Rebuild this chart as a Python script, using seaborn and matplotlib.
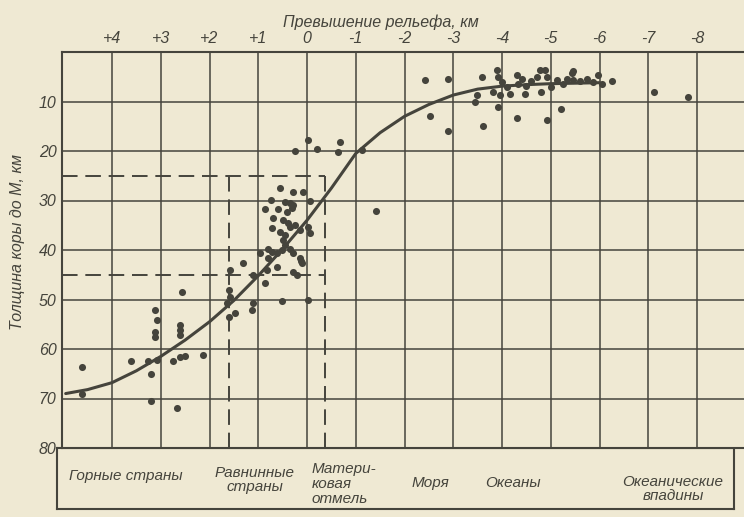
import numpy as np
import pandas as pd
import matplotlib
matplotlib.use("Agg")
import matplotlib.pyplot as plt
import seaborn as sns

# relief elevation (km, + above sea level) and crust thickness to Moho (km)
elev_km = [4.62, 4.62, 3.60, 3.26, 3.08, 3.19, 3.19, 2.67, 3.12, 3.08, 3.12, 3.12,
           2.60, 2.60, 2.60, 2.74, 2.60, 2.50, 2.14, 2.57,
           1.59, 1.58, 1.65, 1.48, 1.61, 1.58, 1.31, 1.10, 1.10, 1.13,
           0.86, 0.52, -0.03, 0.96, 0.83, 0.62, 0.28, 0.21, 0.11, 0.79,
           0.80, 0.72, 0.62, 0.52, 0.35, 0.28, 0.14, 0.12, 0.49, 0.45,
           0.72, 0.55, 0.45, 0.14, -0.03, -0.06, 0.35, 0.69, 0.49, 0.38, 0.25,
           0.86, 0.59, 0.42, 0.30, 0.35, 0.74, 0.45, 0.28, -0.06, 0.55, 0.28, 0.09,
           0.25, -0.03, -0.20, -0.68, -0.64, -1.12, -1.42,
           -2.42, -2.90, -3.58, -3.89, -3.92, -3.82, -3.96, -3.48, -3.45, -3.92,
           -4.16, -4.30, -4.33, -4.47, -4.50, -4.71, -4.78, -4.81, -4.92, -5.12, -5.25, -5.22,
           -2.52, -2.90, -3.62, -4.30, -4.92, -4.00, -4.10, -4.60, -5.00, -4.40,
           -5.46, -5.33, -5.46, -5.75, -5.87, -5.97, -6.05, -6.25, -5.60, -4.89, -5.44,
           -7.11, -7.82]
depth_km = [63.6, 69.0, 62.4, 62.4, 62.2, 65.0, 70.6, 72.0, 52.1, 54.1, 56.5, 57.5,
            55.2, 56.2, 57.2, 62.4, 61.7, 61.5, 61.2, 48.5,
            48.1, 49.4, 50.8, 52.8, 53.5, 44.0, 42.7, 45.0, 50.8, 52.1,
            46.7, 50.4, 50.1, 40.7, 44.0, 43.4, 44.4, 45.0, 42.7, 41.7,
            39.7, 40.4, 40.7, 40.0, 39.7, 40.7, 41.7, 42.2, 38.0, 39.0,
            35.6, 36.3, 37.0, 36.0, 35.3, 36.6, 35.3, 33.6, 34.0, 34.5, 35.0,
            31.8, 31.8, 32.4, 31.6, 30.5, 29.9, 30.3, 30.9, 30.2, 27.5, 28.2, 28.2,
            19.9, 17.8, 19.5, 18.1, 20.3, 19.8, 32.1,
            5.6, 5.5, 5.0, 3.7, 5.0, 8.0, 8.7, 8.7, 10.0, 11.1,
            8.4, 4.7, 6.4, 8.4, 6.8, 5.0, 3.6, 8.0, 5.0, 5.6, 6.4, 11.5,
            12.9, 16.0, 15.0, 13.3, 13.7, 6.0, 7.0, 5.8, 7.0, 5.5,
            3.9, 5.4, 5.6, 5.5, 6.0, 4.7, 6.4, 5.9, 5.8, 3.6, 4.2,
            8.0, 9.0]

# hand-drawn mean curve
curve_elev = [4.95, 4.5, 4.0, 3.5, 3.0, 2.5, 2.0, 1.5, 1.0, 0.5, 0.0, -0.5,
              -1.0, -1.5, -2.0, -2.5, -3.0, -3.5, -4.0, -4.5, -5.0, -5.5, -6.0]
curve_depth = [69.0, 68.2, 66.8, 64.4, 61.5, 58.2, 54.5, 50.2, 45.2, 39.8, 34.0, 27.5,
               20.5, 16.3, 13.0, 10.6, 8.7, 7.5, 6.9, 6.6, 6.4, 6.3, 6.2]

top_ticks = [4, 3, 2, 1, 0, -1, -2, -3, -4, -5, -6, -7, -8]
top_labels = ['+4', '+3', '+2', '+1', '0', '-1', '-2', '-3', '-4', '-5', '-6', '-7', '-8']
depth_ticks = [10, 20, 30, 40, 50, 60, 70, 80]

# dashed box: plains thickness band
box_depth = [25, 45]
box_elev = [1.6, -0.37]

region_names = ['Горные страны', 'Равнинные\nстраны', 'Матери-\nковая\nотмель',
                'Моря', 'Океаны', 'Океанические\nвпадины']
region_px = [126, 255, 312, 430, 513, 673]
region_py = [476, 480, 484, 483, 483, 489]

bg = '#efe9d3'
ink = '#45443c'

sns.set_style("white")
plt.rcParams['font.family'] = ['Liberation Sans', 'DejaVu Sans']

fig = plt.figure(figsize=(7.44, 5.17), dpi=100)
fig.patch.set_facecolor(bg)
W, H = 744, 517

# label strip below the grid
ax2 = fig.add_axes([57 / W, 1 - 509 / H, (734 - 57) / W, (509 - 448) / H])
ax2.set_facecolor(bg)
ax2.set_xticks([])
ax2.set_yticks([])
for s in ax2.spines.values():
    s.set_color(ink)
    s.set_linewidth(1.5)

ax = fig.add_axes([62 / W, 1 - 448 / H, (744 - 62) / W, (448 - 52) / H])
ax.set_facecolor(bg)

df = pd.DataFrame({'elev': elev_km, 'depth': depth_km})
curve = pd.DataFrame({'elev': curve_elev, 'depth': curve_depth})

sns.lineplot(data=curve, x='elev', y='depth', color=ink, lw=2.2, sort=False, ax=ax, zorder=4)
sns.scatterplot(data=df, x='elev', y='depth', color=ink, s=26, linewidth=0, ax=ax, zorder=5)

ax.set_xlim((307 - 62) / 48.75, (307 - 744) / 48.75)
ax.set_ylim(80, 0)

# dashed box
left_e = ax.get_xlim()[0]
ls = dict(color=ink, lw=1.4, ls=(0, (8, 4)), zorder=3)
ax.plot([left_e, box_elev[1]], [box_depth[0], box_depth[0]], **ls)
ax.plot([left_e, box_elev[1]], [box_depth[1], box_depth[1]], **ls)
ax.plot([box_elev[0], box_elev[0]], [box_depth[0], 80], **ls)
ax.plot([box_elev[1], box_elev[1]], [box_depth[0], 80], **ls)

ax.xaxis.tick_top()
ax.set_xticks(top_ticks)
ax.set_xticklabels(top_labels, fontsize=11.5, fontstyle='italic', color=ink)
ax.set_yticks(depth_ticks)
ax.set_yticklabels([str(t) for t in depth_ticks], fontsize=11.5, fontstyle='italic', color=ink)
ax.tick_params(axis='both', length=0, pad=4)
ax.grid(True, color=ink, lw=1.1)
ax.set_xlabel('')
ax.set_ylabel('')
for side in ['top', 'left', 'bottom']:
    ax.spines[side].set_color(ink)
    ax.spines[side].set_linewidth(1.5)
ax.spines['right'].set_visible(False)

fig.text(381 / W, 1 - 22 / H, 'Превышение рельефа, км', ha='center', va='center',
         fontsize=11.5, fontstyle='italic', color=ink)
fig.text(18 / W, 1 - 242 / H, 'Толщина коры до М, км', ha='center', va='center',
         rotation=90, fontsize=11.5, fontstyle='italic', color=ink)

for name, px, py in zip(region_names, region_px, region_py):
    ha = 'left' if name.startswith('Матери') else 'center'
    fig.text(px / W, 1 - py / H, name, ha=ha, va='center', fontsize=11,
             fontstyle='italic', color=ink, linespacing=1.05)

fig.savefig('out.png', dpi=100, facecolor=bg)
